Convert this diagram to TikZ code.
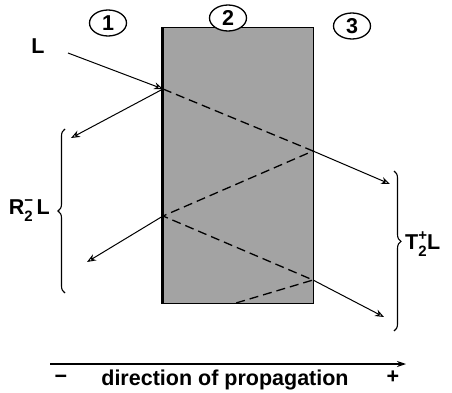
\documentclass[tikz,border=0pt]{standalone}
\usepackage{fontspec}
\setmainfont{Liberation Sans}
\usetikzlibrary{arrows.meta,decorations.pathreplacing,shapes.geometric}
\newcommand\mysubsup[2]{\rlap{\raisebox{-0.32em}{\fontsize{15}{15}\selectfont #1}}\raisebox{0.42em}{\fontsize{15}{15}\selectfont #2}}
\tikzset{
  lbl/.style={font=\fontsize{21.5}{25}\selectfont\bfseries, inner sep=0pt},
  numring/.style={draw, line width=1.3pt, shape=ellipse, inner sep=0pt, minimum width=37pt, minimum height=26pt},
  slabbox/.style={draw, line width=1pt, fill=black!36, inner sep=0pt},
  arr/.style={line width=1pt, -{Stealth[open, length=9pt, width=7pt]}},
  dsh/.style={line width=1.3pt, dash pattern=on 9pt off 5pt},
  brc/.style={line width=1.1pt, decorate, decoration={brace, amplitude=7pt}},
}
\begin{document}
\begin{tikzpicture}[x=1pt, y=-1pt]
\useasboundingbox (0,0) rectangle (452,393);
% slab
\node[slabbox, minimum width=150pt, minimum height=275pt] (slab) at (238,165.5) {};
\draw[line width=2.6pt] (slab.north west) -- (slab.south west);
% circled numbers
\node[numring] (n1) at (108,23) {};
\node[lbl] (t1) at (108,23) {1};
\node[numring, fill=white] (n2) at (228,18) {};
\node[lbl] (t2) at (228,18) {2};
\node[numring] (n3) at (352,26) {};
\node[lbl] (t3) at (352,26) {3};
% points
\coordinate (S) at (68,53);
\coordinate (A) at (163,89);
\coordinate (B) at (313,151);
\coordinate (C) at (163,216);
\coordinate (D) at (313,280);
\coordinate (E) at (236,303);
\coordinate (R1) at (71,138);
\coordinate (T1) at (390,184);
\coordinate (R2) at (87,262);
\coordinate (T2) at (384,317);
% rays
\draw[dsh] (A) -- (B) -- (C) -- (D) -- (E);
\draw[arr] (S) -- (A);
\draw[arr] (A) -- (R1);
\draw[arr] (B) -- (T1);
\draw[arr] (C) -- (R2);
\draw[arr] (D) -- (T2);
% labels
\node[lbl] (L) at (38,46) {L};
\coordinate (lb1) at (65,293);
\coordinate (lb2) at (65,129);
\draw[brc] (lb1) -- (lb2);
\node[lbl, anchor=east] (RL) at (50,211) {R\mysubsup{2}{−}\,L};
\coordinate (rb1) at (394,171);
\coordinate (rb2) at (394,331);
\draw[brc, decoration={aspect=0.44}] (rb1) -- (rb2);
\node[lbl, anchor=west] (TL) at (405,244) {T\mysubsup{2}{+}L};
% propagation axis
\coordinate (P1) at (50,364);
\coordinate (P2) at (406,364);
\draw[line width=1.1pt, -{Stealth[length=9pt, width=6pt]}] (P1) -- (P2);
\node[lbl] (minus) at (61,379) {−};
\node[lbl] (dir) at (225,380) {direction of propagation};
\node[lbl] (plus) at (393,377) {+};
\end{tikzpicture}
\end{document}
